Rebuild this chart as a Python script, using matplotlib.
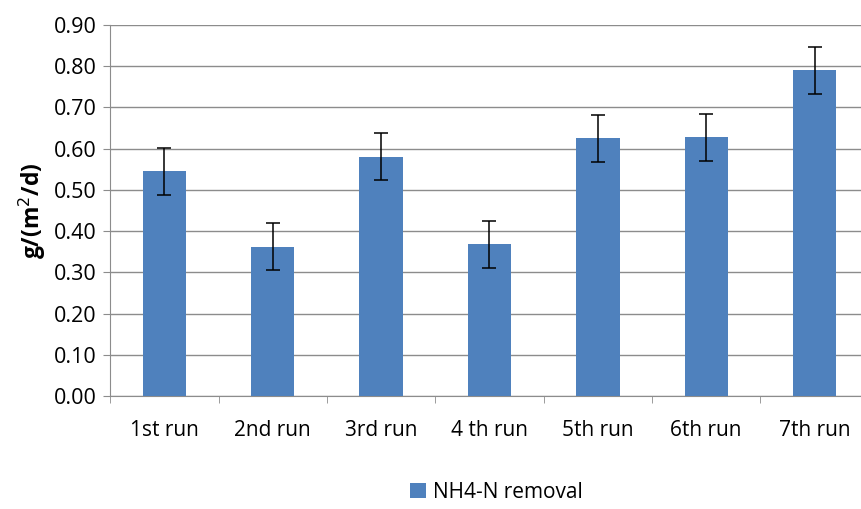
import numpy as np
import matplotlib.pyplot as plt
from matplotlib.ticker import MultipleLocator, FormatStrFormatter

runs = ["1st run", "2nd run", "3rd run", "4 th run", "5th run", "6th run", "7th run"]
removal = [0.545, 0.362, 0.580, 0.368, 0.625, 0.628, 0.790]
errors = [0.057, 0.057, 0.057, 0.057, 0.057, 0.057, 0.057]

plt.rcParams['font.family'] = ['Open Sans', 'DejaVu Sans']

fig = plt.figure(figsize=(8.61, 5.09), dpi=100)
ax = fig.add_axes([0.128, 0.222, 0.881, 0.729])

x = np.arange(len(runs))
ax.bar(x, removal, width=0.4, color="#4F81BD", yerr=errors,
       error_kw=dict(ecolor="black", elinewidth=1.1, capsize=5, capthick=1.1),
       label="NH4-N removal", zorder=3)

ax.set_xlim(-0.5, len(runs) - 0.5)
ax.set_ylim(0, 0.9)
ax.yaxis.set_major_locator(MultipleLocator(0.1))
ax.yaxis.set_major_formatter(FormatStrFormatter("%.2f"))
ax.grid(axis="y", color="#8c8c8c", linewidth=1.0, zorder=0)

ax.set_xticks(x)
ax.set_xticklabels(runs)
ax.set_xticks(np.arange(len(runs) + 1) - 0.5, minor=True)
ax.tick_params(axis="x", which="major", length=0, labelsize=15, pad=17)
ax.tick_params(axis="x", which="minor", length=5, color="#8c8c8c")
ax.tick_params(axis="y", length=5, color="#8c8c8c", labelsize=15.5, pad=5)

for side in ["top", "right"]:
    ax.spines[side].set_visible(False)
ax.spines["left"].set_color("#8c8c8c")
ax.spines["bottom"].set_color("#8c8c8c")

ax.set_ylabel("g/(m$^2$/d)", fontsize=16.5, fontweight="bold", labelpad=4)

fig.legend(loc="lower center", bbox_to_anchor=(0.577, -0.025), frameon=False,
           fontsize=15, handlelength=0.75, handleheight=0.75, handletextpad=0.35)

fig.savefig("out.png", dpi=100)
